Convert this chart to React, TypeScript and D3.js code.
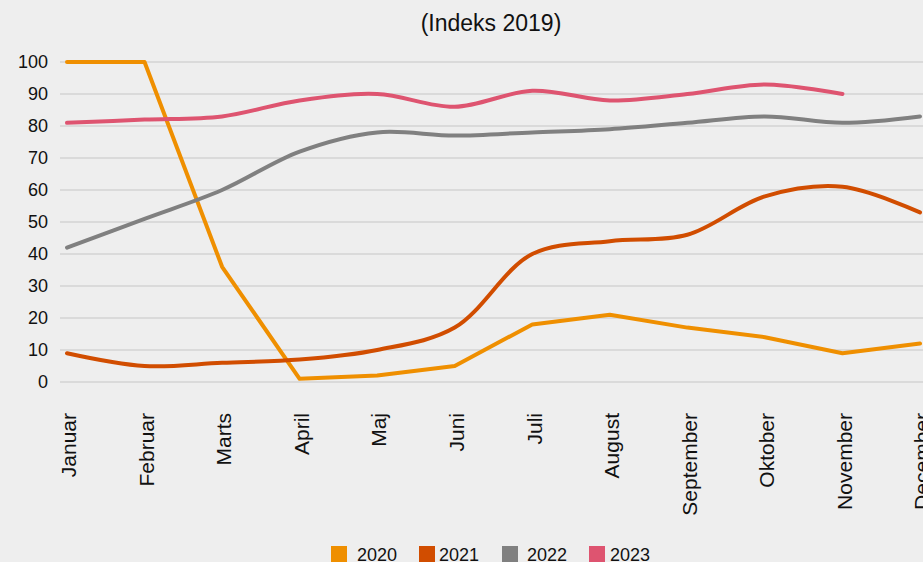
import React, { useEffect, useRef } from "react";
import * as d3 from "d3";

const months = [
  "Januar", "Februar", "Marts", "April", "Maj", "Juni",
  "Juli", "August", "September", "Oktober", "November", "December",
];
const years = ["2020", "2021", "2022", "2023"];
const v2020 = [100, 100, 36, 1, 2, 5, 18, 21, 17, 14, 9, 12];
const v2021 = [9, 5, 6, 7, 10, 17, 40, 44, 46, 58, 61, 53];
const v2022 = [42, 51, 60, 72, 78, 77, 78, 79, 81, 83, 81, 83];
const v2023 = [81, 82, 83, 88, 90, 86, 91, 88, 90, 93, 90];
const yTicks = [0, 10, 20, 30, 40, 50, 60, 70, 80, 90, 100];
const colors = ["#ef8f00", "#d14d00", "#808080", "#de5470"];

const W = 923;
const H = 562;

const App = () => {
  const ref = useRef<SVGSVGElement>(null);

  useEffect(() => {
    const svg = d3.select(ref.current);
    svg.selectAll("*").remove();
    const font = "'Liberation Sans', Arial, sans-serif";

    svg.append("rect").attr("width", W).attr("height", H).attr("fill", "#eeeeee");

    const x = d3.scalePoint().domain(months).range([67, 920]);
    const y = d3.scaleLinear().domain([0, 100]).range([382, 62]);

    // title
    svg.append("text")
      .attr("x", 491).attr("y", 31)
      .attr("text-anchor", "middle")
      .attr("font-family", font).attr("font-size", 23)
      .attr("fill", "#111")
      .text("(Indeks 2019)");

    // grid + y labels
    const g = svg.append("g");
    g.selectAll("line.grid")
      .data(yTicks)
      .join("line")
      .attr("x1", 60).attr("x2", W)
      .attr("y1", (d) => y(d)).attr("y2", (d) => y(d))
      .attr("stroke", "#c6c6c6").attr("stroke-width", 1.2);
    g.selectAll("text.yl")
      .data(yTicks)
      .join("text")
      .attr("x", 48).attr("y", (d) => y(d))
      .attr("dy", "0.36em")
      .attr("text-anchor", "end")
      .attr("font-family", font).attr("font-size", 18)
      .attr("fill", "#111")
      .text((d) => d);

    // x labels
    svg.append("g")
      .selectAll("text")
      .data(months)
      .join("text")
      .attr("transform", (d) => `translate(${x(d)},413) rotate(-90)`)
      .attr("dy", "0.44em")
      .attr("text-anchor", "end")
      .attr("font-family", font).attr("font-size", 21)
      .attr("fill", "#111")
      .text((d) => d);

    const series = [v2020, v2021, v2022, v2023];
    const straight = d3.line<number>()
      .x((_, i) => x(months[i]) as number)
      .y((d) => y(d));
    const smooth = d3.line<number>()
      .x((_, i) => x(months[i]) as number)
      .y((d) => y(d))
      .curve(d3.curveCatmullRom.alpha(0.5));

    svg.append("g")
      .selectAll("path")
      .data(series)
      .join("path")
      .attr("d", (d, i) => (i === 0 ? straight(d) : smooth(d)))
      .attr("fill", "none")
      .attr("stroke", (_, i) => colors[i])
      .attr("stroke-width", 4)
      .attr("stroke-linecap", "round")
      .attr("stroke-linejoin", "round");

    // legend
    const boxX = [331, 419, 502, 589];
    const textX = [357, 439, 527, 610];
    const lg = svg.append("g");
    lg.selectAll("rect")
      .data(years)
      .join("rect")
      .attr("x", (_, i) => boxX[i]).attr("y", 546)
      .attr("width", 16).attr("height", 16)
      .attr("fill", (_, i) => colors[i]);
    lg.selectAll("text")
      .data(years)
      .join("text")
      .attr("x", (_, i) => textX[i]).attr("y", 561)
      .attr("font-family", font).attr("font-size", 18)
      .attr("fill", "#111")
      .text((d) => d);
  }, []);

  return (
    <svg
      ref={ref}
      width={W}
      height={H}
      style={{ position: "absolute", left: 0, top: 0 }}
    ></svg>
  );
};

export default App;
